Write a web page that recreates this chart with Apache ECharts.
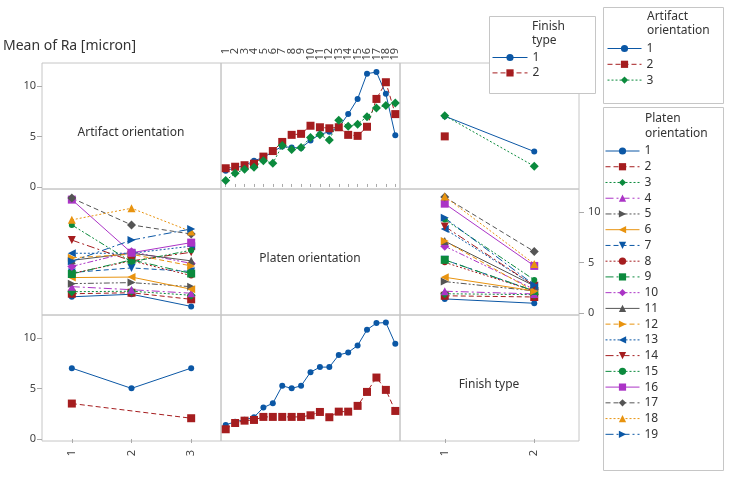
<!DOCTYPE html>
<html><head><meta charset="utf-8">
<script src="https://cdn.jsdelivr.net/npm/echarts@6/dist/echarts.min.js"></script>
<style>html,body{margin:0;padding:0;background:#fff}#c{width:729px;height:477px}</style>
</head><body><div id="c"></div>
<script>
// ---------- data ----------
const platenCats = ['1','2','3','4','5','6','7','8','9','10','11','12','13','14','15','16','17','18','19'];
const artifactCats = ['1','2','3'];
const finishCats = ['1','2'];
const yTicks = [0, 5, 10];

// Mean of Ra by platen orientation, per artifact orientation
const artifact1ByPlaten = [1.6, 1.9, 2.1, 2.6, 2.9, 3.5, 4.0, 3.9, 3.85, 4.6, 5.2, 5.45, 5.9, 7.2, 8.7, 11.2, 11.35, 9.2, 5.1];
const artifact2ByPlaten = [1.85, 2.0, 2.15, 2.3, 3.0, 3.55, 4.45, 5.15, 5.25, 6.05, 5.9, 5.8, 5.9, 5.15, 5.05, 5.95, 8.7, 10.35, 7.2];
const artifact3ByPlaten = [0.65, 1.35, 1.75, 1.95, 2.6, 2.35, 4.1, 3.7, 3.9, 4.9, 5.15, 4.65, 6.6, 6.0, 6.2, 6.95, 7.8, 8.05, 8.3];
// Mean of Ra by platen orientation, per finish type
const finish1ByPlaten = [1.39, 1.7, 1.9, 2.15, 3.1, 3.53, 5.25, 5.0, 5.25, 6.6, 7.1, 7.1, 8.3, 8.55, 9.24, 10.8, 11.45, 11.5, 9.4];
const finish2ByPlaten = [0.96, 1.58, 1.81, 1.88, 2.18, 2.18, 2.18, 2.18, 2.18, 2.34, 2.67, 2.15, 2.7, 2.7, 3.27, 4.65, 6.07, 4.85, 2.77];
// Mean of Ra by artifact orientation, per finish type
const finish1ByArtifact = [7.0, 5.0, 7.0];
const finish2ByArtifact = [3.5, null, 2.05];
// Mean of Ra by finish type, per artifact orientation
const artifact1ByFinish = [7.0, 3.5];
const artifact2ByFinish = [5.0, null];
const artifact3ByFinish = [7.05, 2.05];

// ---------- styles ----------
const FONT = 'Noto Sans';
const palette = ['#0b57a5','#a51d1f','#0b8a3d','#ab34c6','#555555','#e8930f'];
const shapes = ['circle','rect','diamond','triangle','path://M0,0L10,5L0,10Z','path://M10,0L0,5L10,10Z','path://M0,0L10,0L5,10Z'];
const shapeSizes = [6, 8, 9, 8, 8, 8, 8];
const dashes = ['solid',[5,3],[2,2],[8,3,2,3],[6,2,2,2,2,2]];

function lineSeries(name, gi, data, k) {
  const col = palette[k % 6];
  return {
    type: 'line', name, xAxisIndex: gi, yAxisIndex: gi, data,
    symbol: shapes[k % 7], symbolSize: shapeSizes[k % 7],
    showAllSymbol: true, connectNulls: true,
    lineStyle: { width: 1, type: dashes[k % 5], color: col },
    itemStyle: { color: col },
    emphasis: { disabled: true }, animation: false, silent: true
  };
}

const colX = [42, 221, 400], rowY = [63, 189, 315], panelW = 179, panelH = 126;
const grids = [], xAxes = [], yAxes = [];
for (let r = 0; r < 3; r++) for (let c = 0; c < 3; c++) {
  const gi = r * 3 + c;
  grids.push({ left: colX[c], top: rowY[r], width: panelW, height: panelH, show: true,
    borderColor: '#c6c6c6', borderWidth: 1, backgroundColor: 'transparent' });
  const cats = [artifactCats, platenCats, finishCats][c];
  const showTop = (r === 0 && c === 1);
  const showBottom = (r === 2 && (c === 0 || c === 2));
  const xl = { rotate: 90, margin: showTop ? 15 : 9, interval: 0, fontFamily: FONT, fontSize: 11, color: '#444' };
  if (showTop) { xl.align = 'right'; xl.verticalAlign = 'middle'; }
  xAxes.push({ type: 'category', gridIndex: gi, data: cats, boundaryGap: true,
    position: showTop ? 'top' : 'bottom', show: showTop || showBottom,
    axisLine: { show: false }, splitLine: { show: false },
    axisTick: { show: true, alignWithLabel: true, length: showTop ? 3 : 4, lineStyle: { color: '#aaaaaa' } },
    axisLabel: xl });
  const showLeft = (c === 0 && (r === 0 || r === 2));
  const showRight = (r === 1 && c === 2);
  yAxes.push({ type: 'value', gridIndex: gi, min: -0.2, max: 12.25,
    position: showRight ? 'right' : 'left', show: showLeft || showRight,
    axisLine: { show: false }, splitLine: { show: false },
    axisTick: { show: true, length: 5, customValues: yTicks, lineStyle: { color: '#aaaaaa' } },
    axisLabel: { customValues: yTicks, margin: showRight ? 9 : 6, fontFamily: FONT, fontSize: 11, color: '#444' } });
}

const series = [];
const artByPlaten = [artifact1ByPlaten, artifact2ByPlaten, artifact3ByPlaten];
const artByFinish = [artifact1ByFinish, artifact2ByFinish, artifact3ByFinish];
const finByPlaten = [finish1ByPlaten, finish2ByPlaten];
const finByArtifact = [finish1ByArtifact, finish2ByArtifact];
const artNames = artifactCats.map(a => 'Artifact orientation ' + a);
const finNames = finishCats.map(f => 'Finish type ' + f);
const platNames = platenCats.map(p => 'Platen orientation ' + p);

artByPlaten.forEach((d, k) => series.push(lineSeries(artNames[k], 1, d, k)));
artByFinish.forEach((d, k) => series.push(lineSeries(artNames[k], 2, d, k)));
platenCats.forEach((p, k) => series.push(lineSeries(platNames[k], 3, artByPlaten.map(a => a[k]), k)));
platenCats.forEach((p, k) => series.push(lineSeries(platNames[k], 5, finByPlaten.map(f => f[k]), k)));
finByArtifact.forEach((d, k) => series.push(lineSeries(finNames[k], 6, d, k)));
finByPlaten.forEach((d, k) => series.push(lineSeries(finNames[k], 7, d, k)));

const fmt = name => name.split(' ').pop();
const legendBase = { orient: 'vertical', itemHeight: 9, padding: 0, selectedMode: false, formatter: fmt,
  lineStyle: { width: 1 },
  textStyle: { fontFamily: FONT, fontSize: 12, color: '#333' }, z: 20 };

const txt = (text, x, y, size, align, z) => ({ type: 'text', x, y, z: z || 21,
  style: { text, font: size + 'px "' + FONT + '"', fill: '#333', align: align || 'left', verticalAlign: 'middle', lineHeight: 14 } });
const box = (x, y, w, h) => ({ type: 'rect', z: 10, shape: { x, y, width: w, height: h },
  style: { fill: '#ffffff', stroke: '#c6c6c6', lineWidth: 1 } });

const option = {
  animation: false,
  grid: grids, xAxis: xAxes, yAxis: yAxes, series,
  legend: [
    Object.assign({}, legendBase, { data: finNames, left: 492, top: 51.5, itemWidth: 35, itemGap: 3.4 }),
    Object.assign({}, legendBase, { data: artNames, left: 607, top: 42.5, itemWidth: 34, itemGap: 3.8 }),
    Object.assign({}, legendBase, { data: platNames, left: 605, top: 145, itemWidth: 34, itemGap: 3.74 })
  ],
  graphic: [
    txt('Mean of Ra [micron]', 3, 46, 14),
    txt('Artifact orientation', 131, 133, 12, 'center', 5),
    txt('Platen orientation', 310, 259, 12, 'center', 5),
    txt('Finish type', 489, 385, 12, 'center', 5),
    box(489.5, 16.5, 106, 77),
    box(603.5, 7.5, 120, 96),
    box(603.5, 107.5, 120, 363),
    txt('Finish', 532, 27, 12),
    txt('type', 532, 41, 12),
    txt('Artifact', 647, 17, 12),
    txt('orientation', 647, 31, 12),
    txt('Platen', 645, 119, 12),
    txt('orientation', 645, 134, 12)
  ]
};
const chart = echarts.init(document.getElementById('c'), null, { renderer: 'canvas' });
chart.setOption(option);
</script>
</body></html>
